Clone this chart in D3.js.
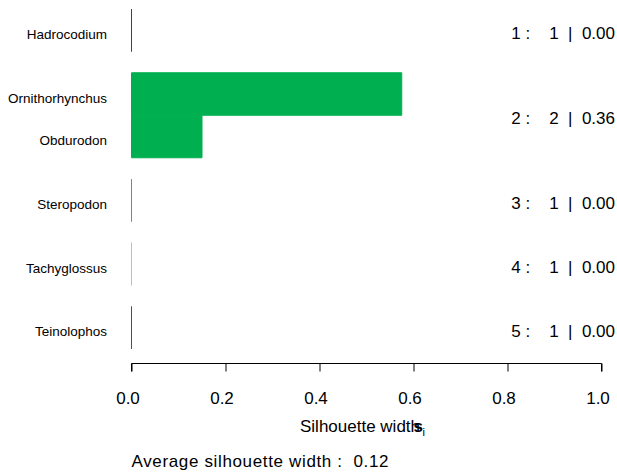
<!DOCTYPE html>
<html>
<head>
<meta charset="utf-8">
<script src="https://cdn.jsdelivr.net/npm/d3@7"></script>
<style>
  html, body { margin: 0; padding: 0; background: #fff; }
  svg { display: block; font-family: "Liberation Sans", Arial, Helvetica, sans-serif; }
  text { white-space: pre; }
</style>
</head>
<body>
<svg id="chart" width="617" height="474"></svg>
<script>
// ---- data ----
const names    = ["Hadrocodium", "Ornithorhynchus", "Obdurodon", "Steropodon", "Tachyglossus", "Teinolophos"];
const clusters = [1, 2, 2, 3, 4, 5];
const widths   = [0.00, 0.575, 0.15, 0.00, 0.00, 0.00];
const clusterIds    = [1, 2, 3, 4, 5];
const clusterSizes  = [1, 2, 1, 1, 1];
const clusterAvgs   = ["0.00", "0.36", "0.00", "0.00", "0.00"];
const clusterColors = ["#DD0000", "#00B050", "#00B0F0", "#FFC000", "#7030A0"];
const xTicks = [0, 0.2, 0.4, 0.6, 0.8, 1.0];
const xTickLabels = ["0.0", "0.2", "0.4", "0.6", "0.8", "1.0"];
const avgWidth = "0.12";

const svg = d3.select("#chart");

// bar slots: 1 unit per bar, 0.5 gap between clusters
let pos = 0;
const bars = names.map((n, i) => {
  if (i > 0 && clusters[i] !== clusters[i - 1]) pos += 0.5;
  const b = { name: n, cluster: clusters[i], w: widths[i], start: pos };
  pos += 1;
  return b;
});
const totalUnits = pos;

const x = d3.scaleLinear().domain([0, 1]).range([131.5, 601.5]);
const y = d3.scaleLinear().domain([0, totalUnits]).range([9, 349]);
const color = d3.scaleOrdinal().domain(clusterIds).range(clusterColors);

// bars (path so zero-width bars still show their border)
svg.append("g").selectAll("path").data(bars).join("path")
  .attr("d", d => {
    const p = d3.path();
    p.rect(x(0), y(d.start), x(d.w) - x(0), y(d.start + 1) - y(d.start));
    return p.toString();
  })
  .attr("fill", d => color(d.cluster))
  .attr("stroke", d => color(d.cluster))
  .attr("stroke-width", 1);

// names
svg.append("g").selectAll("text").data(bars).join("text")
  .attr("x", 107)
  .attr("y", d => y(d.start + 0.5) + 8.5)
  .attr("text-anchor", "end")
  .attr("font-size", 13.5)
  .attr("fill", "#000")
  .text(d => d.name);

// cluster summaries on the right
const clusterInfo = clusterIds.map((c, i) => {
  const bs = bars.filter(b => b.cluster === c);
  const s = bs[0].start, e = bs[bs.length - 1].start + 1;
  return { c, n: clusterSizes[i], avg: clusterAvgs[i], mid: (s + e) / 2 };
});
svg.append("g").selectAll("text").data(clusterInfo).join("text")
  .attr("x", 615)
  .attr("y", d => y(d.mid) + 9)
  .attr("text-anchor", "end")
  .attr("font-size", 17)
  .attr("fill", "#000")
  .text(d => `${d.c} :    ${d.n}  |  ${d.avg}`);

// x axis
const axisY = 363.5;
const axis = d3.axisBottom(x).tickValues(xTicks).tickSize(8)
  .tickFormat((d, i) => xTickLabels[i]);
const gAxis = svg.append("g").attr("transform", `translate(0,${axisY})`).call(axis);
gAxis.select(".domain").attr("d", `M${x(0)},8V0H${x(1)}V8`).attr("stroke", "#000");
gAxis.selectAll(".tick line").attr("stroke", "#000");
gAxis.selectAll(".tick text")
  .attr("font-size", 17)
  .attr("font-family", "Liberation Sans, Arial, sans-serif")
  .attr("fill", "#000")
  .attr("y", 0).attr("dy", 0)
  .attr("transform", "translate(-4,40.5)");

// axis title: "Silhouette width" + s_i (overlapping as in the original)
svg.append("text")
  .attr("x", 300)
  .attr("y", 431.5)
  .attr("font-size", 17)
  .attr("fill", "#000")
  .text("Silhouette width");
svg.append("text")
  .attr("x", 413.5).attr("y", 431.5)
  .attr("font-size", 17).attr("font-weight", "bold").attr("fill", "#000")
  .text("s");
svg.append("text")
  .attr("x", 422.5).attr("y", 435.5)
  .attr("font-size", 11).attr("fill", "#000")
  .text("i");

// subtitle
svg.append("text")
  .attr("x", 131.5)
  .attr("y", 467)
  .attr("font-size", 17)
  .attr("fill", "#000")
  .attr("textLength", 257)
  .attr("lengthAdjust", "spacing")
  .text(`Average silhouette width :  ${avgWidth}`);
</script>
</body>
</html>
